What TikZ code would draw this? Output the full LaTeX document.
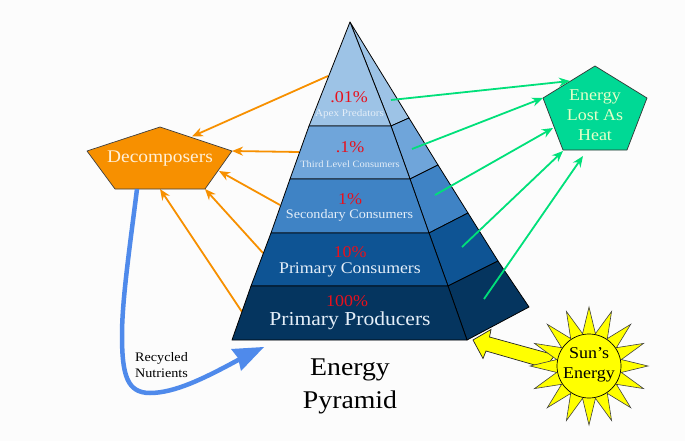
\documentclass[tikz,border=0pt]{standalone}
\usepackage{fontspec}
\setmainfont[FakeStretch=1.09]{Liberation Serif}
\usetikzlibrary{arrows.meta,calc}
\definecolor{bgc}{HTML}{FCFCFC}
\definecolor{lay1}{HTML}{9DC3E6}
\definecolor{lay2}{HTML}{6FA5DA}
\definecolor{lay3}{HTML}{3F83C5}
\definecolor{lay4}{HTML}{0E5494}
\definecolor{lay5}{HTML}{05355F}
\definecolor{orangec}{HTML}{F79000}
\definecolor{greenc}{HTML}{00D995}
\definecolor{greenl}{HTML}{00E07A}
\definecolor{bluec}{HTML}{4F8AEB}
\definecolor{redc}{HTML}{E8101C}
\definecolor{paleg}{HTML}{E4FFC8}
\definecolor{sunc}{RGB}{255,255,0}
\definecolor{paleo}{HTML}{FFF0D8}
\definecolor{palew}{HTML}{E4EEF8}
\tikzset{
  face/.style={draw=black,line width=0.8pt,line join=round},
  orangearrow/.style={draw=orangec,line width=1.8pt,-{Stealth[length=11pt,width=9pt]}},
  greenarrow/.style={draw=greenl,line width=1.8pt,-{Stealth[length=11pt,width=9pt]}},
  pct/.style={text=redc,inner sep=0pt,font=\fontsize{16.5}{16.5}\selectfont},
  lab/.style={text=palew,inner sep=0pt},
  plain/.style={inner sep=0pt,align=center},
}
\begin{document}
\begin{tikzpicture}[x=1pt,y=-1pt]
\fill[bgc] (0,0) rectangle (685,441);
\useasboundingbox (0,0) rectangle (685,441);
% pyramid corners
\coordinate (apex) at (350,22);
\coordinate (f1l) at (309,126); \coordinate (f1r) at (391,126); \coordinate (s1) at (409,118);
\coordinate (f2l) at (290,179); \coordinate (f2r) at (410,179); \coordinate (s2) at (438,165);
\coordinate (f3l) at (271,233); \coordinate (f3r) at (429,233); \coordinate (s3) at (468,213);
\coordinate (f4l) at (251,286); \coordinate (f4r) at (448,286); \coordinate (s4) at (498,261);
\coordinate (f5l) at (232,340); \coordinate (f5r) at (467,340); \coordinate (s5) at (529,307);
% orange and green connector ends
\coordinate (oa1) at (328,76); \coordinate (oa2) at (299,152); \coordinate (oa3) at (280,205);
\coordinate (oa4) at (263,253); \coordinate (oa5) at (242,312);
\coordinate (ga1) at (391,100); \coordinate (ga2) at (412,149); \coordinate (ga3) at (435,195);
\coordinate (ga4) at (462,247); \coordinate (ga5) at (484,299);
% pentagons
\coordinate (dT) at (160,127); \coordinate (dR) at (232,151); \coordinate (dBR) at (205,189);
\coordinate (dBL) at (115,189); \coordinate (dL) at (87,151);
\coordinate (hT) at (595,66); \coordinate (hR) at (647,98); \coordinate (hBR) at (627,150);
\coordinate (hBL) at (563,150); \coordinate (hL) at (543,98);
% connectors under the shapes
\draw[orangearrow] (oa1) -- (192,136.5) coordinate (dTa);
\draw[orangearrow] (oa2) -- (dR);
\draw[orangearrow] (oa3) -- (219,171) coordinate (dRa);
\draw[orangearrow] (oa4) -- (dBR);
\draw[orangearrow] (oa5) -- (160,189) coordinate (dBa);
% pyramid faces
\filldraw[face,fill=lay1] (apex) -- (f1r) -- (s1) -- cycle;
\filldraw[face,fill=lay2] (f1r) -- (f2r) -- (s2) -- (s1) -- cycle;
\filldraw[face,fill=lay3] (f2r) -- (f3r) -- (s3) -- (s2) -- cycle;
\filldraw[face,fill=lay4] (f3r) -- (f4r) -- (s4) -- (s3) -- cycle;
\filldraw[face,fill=lay5] (f4r) -- (f5r) -- (s5) -- (s4) -- cycle;
\filldraw[face,fill=lay1] (apex) -- (f1r) -- (f1l) -- cycle;
\filldraw[face,fill=lay2] (f1l) -- (f1r) -- (f2r) -- (f2l) -- cycle;
\filldraw[face,fill=lay3] (f2l) -- (f2r) -- (f3r) -- (f3l) -- cycle;
\filldraw[face,fill=lay4] (f3l) -- (f3r) -- (f4r) -- (f4l) -- cycle;
\filldraw[face,fill=lay5] (f4l) -- (f4r) -- (f5r) -- (f5l) -- cycle;
% pentagons
\filldraw[fill=orangec,draw=black!75,line width=.7pt,line join=round] (dT) -- (dR) -- (dBR) -- (dBL) -- (dL) -- cycle;
\filldraw[fill=greenc,draw=black!80,line width=.7pt,line join=round] (hT) -- (hR) -- (hBR) -- (hBL) -- (hL) -- cycle;
% green connectors
\draw[greenarrow] (ga1) -- (570,81) coordinate (hTa);
\draw[greenarrow] (ga2) -- (hL);
\draw[greenarrow] (ga3) -- (553,128) coordinate (hLa);
\draw[greenarrow] (ga4) -- (563,151) coordinate (hBa);
\draw[greenarrow] (ga5) -- (583,156) coordinate (hBb);
% recycled nutrients arrow
\coordinate (rs) at (137,189);
\coordinate (re) at (264,347);
\draw[bluec,line width=4.5pt] (rs) .. controls (130,245) and (122,300) .. (122,335)
  .. controls (122,375) and (127,393) .. (150,393)
  .. controls (175,393) and (205,378) .. (240,359);
\fill[bluec] (re) -- (231,349) -- (238,358) -- (241,371) -- cycle;
% sun
\coordinate (sun) at (589,366);
\filldraw[fill=sunc,draw=black!85,line width=.7pt,line join=miter] (473,340) -- (491,329.5) -- (489.5,337) -- (555,355) -- (545,368) -- (486,351) -- (483,358.5) -- cycle;
\filldraw[fill=sunc,draw=black!75,line width=.6pt,line join=miter]
  plot[samples at={0,1,...,31},variable=\k] ({589+(mod(\k,2)==0?59:33)*sin(11.25*\k)},{366-(mod(\k,2)==0?59:33)*cos(11.25*\k)})
  -- cycle;
\draw[black,line width=.7pt,fill=sunc] (sun) circle[radius=32];
% labels
\node[pct] (p1) at (349,97) {.01\%};
\node[lab,font=\fontsize{10.2}{10}\selectfont] (l1) at (349.5,114) {Apex Predators};
\node[pct] (p2) at (350,147) {.1\%};
\node[lab,font=\fontsize{9.6}{10}\selectfont] (l2) at (350,164) {Third Level Consumers};
\node[pct] (p3) at (350,199) {1\%};
\node[lab,font=\fontsize{13}{13}\selectfont] (l3) at (349.5,215) {Secondary Consumers};
\node[pct] (p4) at (350,252) {10\%};
\node[lab,font=\fontsize{16.3}{16}\selectfont] (l4) at (350,270) {Primary Consumers};
\node[pct] (p5) at (347,301.5) {100\%};
\node[lab,font=\fontsize{19.8}{20}\selectfont] (l5) at (350,321) {Primary Producers};
\node[plain,font=\fontsize{25.5}{33}\selectfont] (title) at (350,386.5) {Energy\\Pyramid};
\node[plain,text=paleo,font=\fontsize{17.8}{18}\selectfont] (dec) at (160,158.5) {Decomposers};
\node[plain,text=paleg,font=\fontsize{16.5}{20}\selectfont] (heat) at (595,115) {Energy\\Lost As\\Heat};
\node[plain,font=\fontsize{16.5}{20}\selectfont] (sunt) at (589,365) {Sun's\\Energy};
\node[plain,font=\fontsize{13}{16}\selectfont] (rec) at (161.5,365) {Recycled\\Nutrients};
\end{tikzpicture}
\end{document}
